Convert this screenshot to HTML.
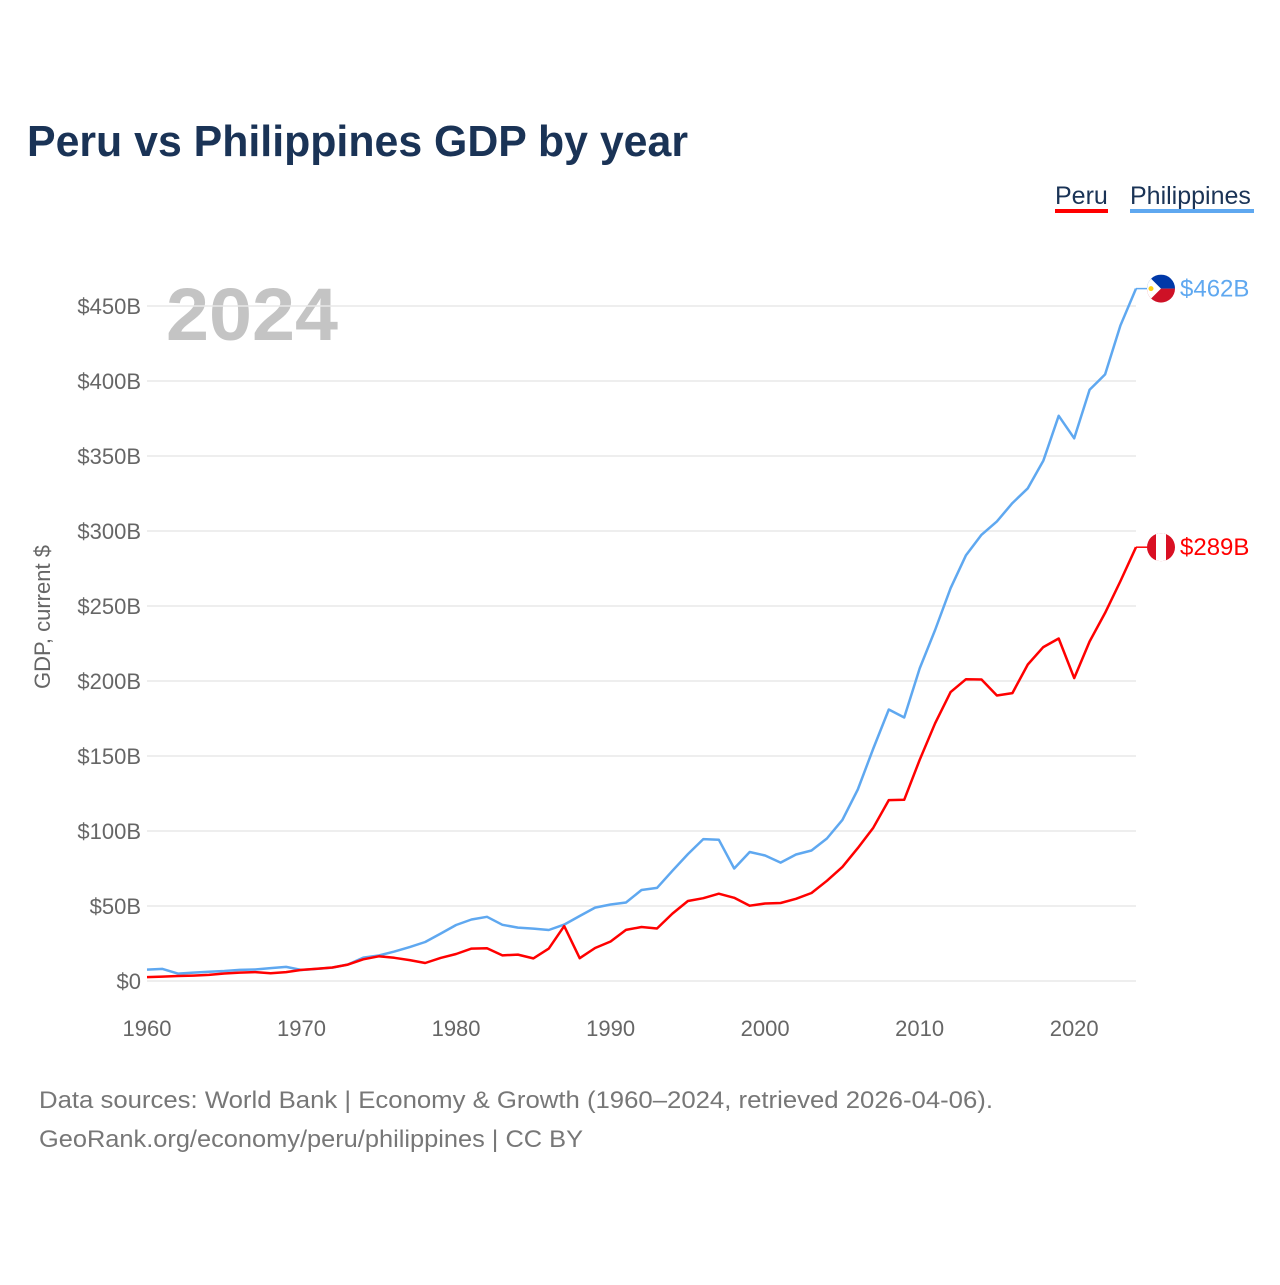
<!DOCTYPE html>
<html><head><meta charset="utf-8"><style>
body{margin:0;background:#fff;font-family:"Liberation Sans",sans-serif}
</style></head><body>
<svg width="1280" height="1280" xmlns="http://www.w3.org/2000/svg" style="font-family:'Liberation Sans',sans-serif">
<rect width="1280" height="1280" fill="#fff"/>
<text x="27" y="156" font-size="44" font-weight="bold" fill="#1a3356" textLength="661" lengthAdjust="spacingAndGlyphs">Peru vs Philippines GDP by year</text>
<g><text x="1055" y="204" font-size="25" fill="#1a3356">Peru</text><rect x="1055" y="209" width="53" height="4" fill="#ff0000"/></g>
<g><text x="1130" y="204" font-size="25" fill="#1a3356">Philippines</text><rect x="1130" y="209" width="124" height="4" fill="#5fa8f0"/></g>
<text x="166" y="340" font-size="74" font-weight="bold" fill="#c4c4c4" textLength="172" lengthAdjust="spacingAndGlyphs">2024</text>
<text transform="translate(50,617) rotate(-90)" text-anchor="middle" font-size="22" fill="#666">GDP, current $</text>
<g id="grid"></g><g id="yt"></g><g id="xt"></g><g id="lines"></g>
<text x="39" y="1108" font-size="24" fill="#777" textLength="954" lengthAdjust="spacingAndGlyphs">Data sources: World Bank | Economy &amp; Growth (1960–2024, retrieved 2026-04-06).</text>
<text x="39" y="1147" font-size="24" fill="#777" textLength="544" lengthAdjust="spacingAndGlyphs">GeoRank.org/economy/peru/philippines | CC BY</text>
</svg>
<script>
const years=[];for(let y=1960;y<=2024;y++)years.push(y);
const philippines=[7.6,8.1,4.9,5.6,6.2,6.7,7.4,7.7,8.6,9.4,7.3,8.1,8.9,11,15.6,17,19.6,22.6,26,31.6,37.3,41,42.8,37.5,35.6,34.9,34,37.6,43.3,48.9,51,52.3,60.7,62.1,73.5,84.6,94.6,94.2,75,86,83.7,78.9,84.3,87,95,107.4,127.7,155,181,175.7,208.4,234,261.9,283.9,297.5,306.4,318.6,328.5,346.8,376.8,361.8,394.1,404.4,437.1,461.6];
const peru=[2.6,2.9,3.3,3.6,4.1,5,5.6,5.9,5.2,5.9,7.4,8.2,9,10.9,14.5,16.5,15.5,13.9,12,15.4,18,21.6,21.8,17.1,17.6,15.1,21.6,36.6,15.2,22,26.3,34.1,36,35,44.9,53.3,55.2,58.2,55.5,50.2,51.7,52,54.8,58.7,66.8,76.1,88.6,102.2,120.6,120.8,147.5,171.8,192.6,201.2,201,190.3,191.9,211,222.6,228.3,201.9,226.3,245.4,266.7,289.2];
const yTicks=[0,50,100,150,200,250,300,350,400,450];
const yTickLabels=["$0","$50B","$100B","$150B","$200B","$250B","$300B","$350B","$400B","$450B"];
const xTicks=[1960,1970,1980,1990,2000,2010,2020];
const NS="http://www.w3.org/2000/svg";
const X=y=>147+(y-1960)*(1136-147)/64;
const Y=v=>981-v*1.5;
function mk(t,a,p){const e=document.createElementNS(NS,t);for(const k in a)e.setAttribute(k,a[k]);document.getElementById(p).appendChild(e);return e;}
yTicks.forEach((v,i)=>{
 const l=mk('line',{x1:147,x2:1136,y1:Y(v),y2:Y(v),stroke:'#e8e8e8','stroke-width':1.5},'grid');
 
 
 const t=mk('text',{x:141,y:Y(v)+8,'text-anchor':'end','font-size':22,fill:'#666'},'yt');t.textContent=yTickLabels[i];
 
 
});
xTicks.forEach(v=>{
 const t=mk('text',{x:X(v),y:1036,'text-anchor':'middle','font-size':22,fill:'#666'},'xt');t.textContent=v;
 
 
});
function series(vals,color,name){
 const d=vals.map((v,i)=>(i?'L':'M')+X(years[i]).toFixed(1)+','+Y(v).toFixed(1)).join('');
 const p=mk('path',{d:d,fill:'none',stroke:color,'stroke-width':2.5,'stroke-linejoin':'round'},'lines');
 
 
 const last=vals[vals.length-1],ly=Y(last);
 mk('line',{x1:X(2024),x2:1150,y1:ly,y2:ly,stroke:color,'stroke-width':1.5},'lines');
 const t=mk('text',{x:1180,y:ly+8,'font-size':24,fill:color},'lines');t.textContent='$'+Math.round(last)+'B';
 
 
 return ly;
}
const py=series(philippines,'#5fa8f0','philippines');
const ry=series(peru,'#ff0000','peru');
let g=mk('g',{},'lines');


g.innerHTML=`<clipPath id="c1"><circle cx="1161" cy="${py}" r="14"/></clipPath><g clip-path="url(#c1)"><rect x="1147" y="${py-14}" width="28" height="14" fill="#0038a8"/><rect x="1147" y="${py}" width="28" height="14" fill="#ce1126"/><polygon points="1147,${py-14} 1161,${py} 1147,${py+14}" fill="#fff"/><circle cx="1151" cy="${py}" r="2.5" fill="#fcd116"/></g>`;
g=mk('g',{},'lines');


g.innerHTML=`<clipPath id="c2"><circle cx="1161" cy="${ry}" r="14"/></clipPath><g clip-path="url(#c2)"><rect x="1147" y="${ry-14}" width="28" height="28" fill="#d91023"/><rect x="1156" y="${ry-14}" width="10" height="28" fill="#fff"/></g>`;
</script>
</body></html>
